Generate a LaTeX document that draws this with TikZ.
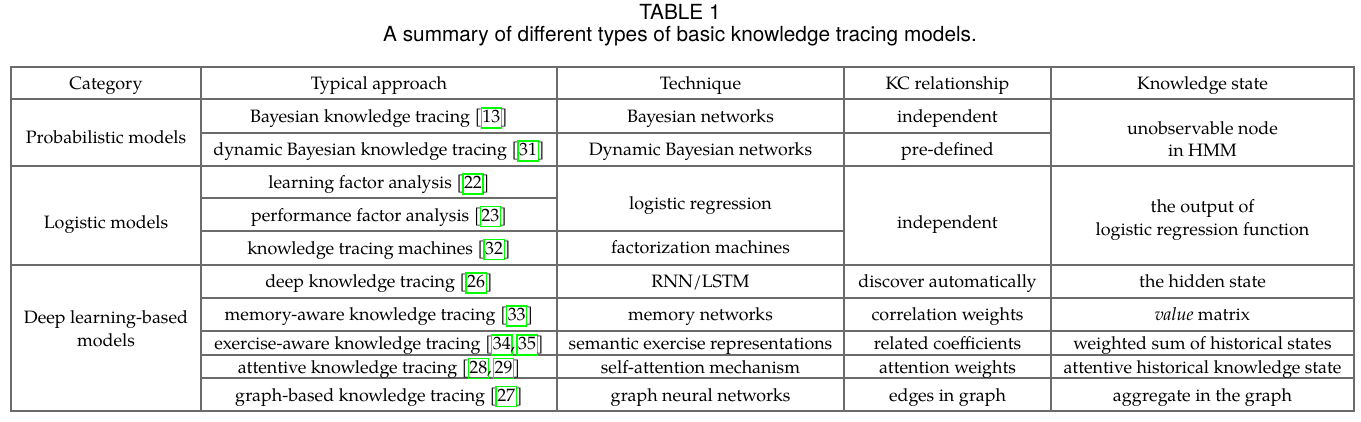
\documentclass[tikz,border=0pt]{standalone}
\usepackage{fontspec}
\setmainfont{TeX Gyre Pagella}
\newfontfamily\capfont{TeX Gyre Heros}
\usepackage{tikz}
\usetikzlibrary{positioning}
\definecolor{linkgreen}{rgb}{0,1,0}
\definecolor{rulegray}{gray}{0.42}
\tikzstyle{multicell} = [inner sep=0, align=center, font=\fontsize{17.9}{23}\selectfont]
\tikzstyle{cell} = [multicell, text height=13pt, text depth=5pt, yshift=-2.5pt]
\tikzstyle{captext} = [inner sep=0, font=\capfont\fontsize{20.8}{23}\selectfont]
\tikzstyle{rule} = [draw=rulegray, line width=1.2pt]
\newcommand{\cbox}[1]{\kern-1.8pt{\setlength{\fboxsep}{0.5pt}\setlength{\fboxrule}{1.3pt}\color{linkgreen}\fbox{\color{black}\vphantom{[}#1}}\kern-1.8pt}

\begin{document}
\begin{tikzpicture}[x=1pt, y=-1pt]
	\useasboundingbox (0,0) rectangle (1361,421);

	\node (title) at(680,12) [captext] {TABLE 1};
	\node (caption) at(680,36) [captext] {A summary of different types of basic knowledge tracing models.};

	\draw[rule] (11,67) rectangle (1354,411);
	\draw[rule] (201,67) -- (201,411);
	\draw[rule] (557,67) -- (557,411);
	\draw[rule] (844,67) -- (844,411);
	\draw[rule] (1051,67) -- (1051,411);
	\draw[rule] (11,99) -- (1354,99);
	\draw[rule] (201,133) -- (1051,133);
	\draw[rule] (11,166) -- (1354,166);
	\draw[rule] (201,198) -- (557,198);
	\draw[rule] (201,231) -- (844,231);
	\draw[rule] (11,265) -- (1354,265);
	\foreach \y in {298,331,355,378}
		\draw[rule] (201,\y) -- (1354,\y);

	\node (cat) at(106,83) [cell] {Category};
	\node (app) at(379,83) [cell] {Typical approach};
	\node (tech) at(700.5,83) [cell] {Technique};
	\node (kc) at(947.5,83) [cell] {KC relationship};
	\node (ks) at(1202.5,83) [cell] {Knowledge state};

	\node (prob) at(106,137) [cell] {Probabilistic models};
	\node (logi) at(106,222) [cell] {Logistic models};
	\node (deep) at(106,328.5) [multicell] {Deep learning-based\\models};

	\node (bkt) at(379,116) [cell] {Bayesian knowledge tracing [\cbox{13}]};
	\node (dbkt) at(379,149) [cell] {dynamic Bayesian knowledge tracing [\cbox{31}]};
	\node (lfa) at(379,182) [cell] {learning factor analysis [\cbox{22}]};
	\node (pfa) at(379,214.5) [cell] {performance factor analysis [\cbox{23}]};
	\node (ktm) at(379,247.5) [cell] {knowledge tracing machines [\cbox{32}]};
	\node (dkt) at(379,281) [cell] {deep knowledge tracing [\cbox{26}]};
	\node (mkt) at(379,314) [cell] {memory-aware knowledge tracing [\cbox{33}]};
	\node (ekt) at(379,343) [cell] {exercise-aware knowledge tracing [\cbox{34},\,\cbox{35}]};
	\node (akt) at(379,366.5) [cell] {attentive knowledge tracing [\cbox{28},\,\cbox{29}]};
	\node (gkt) at(379,394.5) [cell] {graph-based knowledge tracing [\cbox{27}]};

	\node (bn) at(700.5,116) [cell] {Bayesian networks};
	\node (dbn) at(700.5,149) [cell] {Dynamic Bayesian networks};
	\node (lr) at(700.5,202.5) [cell] {logistic regression};
	\node (fm) at(700.5,247) [cell] {factorization machines};
	\node (rnn) at(700.5,281) [cell] {RNN/LSTM};
	\node (memnet) at(700.5,314) [cell] {memory networks};
	\node (sem) at(700.5,343) [cell] {semantic exercise representations};
	\node (selfatt) at(700.5,366.5) [cell] {self-attention mechanism};
	\node (gnn) at(700.5,394.5) [cell] {graph neural networks};

	\node (indep1) at(947.5,116) [cell] {independent};
	\node (predef) at(947.5,149) [cell] {pre-defined};
	\node (indep2) at(947.5,222) [cell] {independent};
	\node (discover) at(947.5,281) [cell] {discover automatically};
	\node (corr) at(947.5,314) [cell] {correlation weights};
	\node (coef) at(947.5,343) [cell] {related coefficients};
	\node (attw) at(947.5,366.5) [cell] {attention weights};
	\node (edges) at(947.5,394.5) [cell] {edges in graph};

	\node (hmm) at(1202.5,139) [multicell] {unobservable node\\[-1pt]in HMM};
	\node (lrout) at(1202.5,220.5) [multicell] {the output of\\logistic regression function};
	\node (hidden) at(1202.5,281) [cell] {the hidden state};
	\node (value) at(1202.5,314) [cell] {\textit{value} matrix};
	\node (wsum) at(1202.5,343) [cell] {weighted sum of historical states};
	\node (attks) at(1202.5,366.5) [cell] {attentive historical knowledge state};
	\node (aggr) at(1202.5,394.5) [cell] {aggregate in the graph};
\end{tikzpicture}
\end{document}
